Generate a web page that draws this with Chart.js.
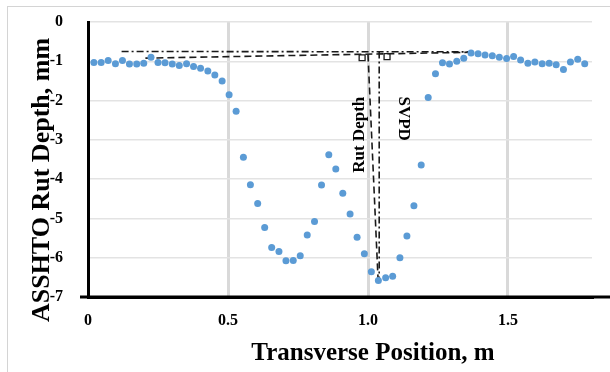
<!DOCTYPE html>
<html>
<head>
<meta charset="utf-8">
<script src="https://cdn.jsdelivr.net/npm/chart.js@4/dist/chart.umd.min.js"></script>
<style>
    html, body { margin: 0; padding: 0; background: #fff; }
    #wrap { position: relative; width: 610px; height: 372px; overflow: hidden; }
    #frame { position: absolute; left: 7px; top: 6px; width: 700px; height: 500px; border: 1px solid #d4d4d4; }
    canvas { position: absolute; left: 0; top: 0; }
</style>
</head>
<body>
<div id="wrap">
    <div id="frame"></div>
    <canvas id="rutChart" width="610" height="372"></canvas>
</div>
<script>
// transverse profile (m) and measured rut depth (mm)
const positions = [
    0.021, 0.047, 0.072, 0.098, 0.123, 0.148, 0.174, 0.199, 0.225, 0.250,
    0.275, 0.301, 0.326, 0.352, 0.377, 0.402, 0.428, 0.453, 0.479, 0.504,
    0.529, 0.555, 0.580, 0.606, 0.631, 0.656, 0.682, 0.707, 0.733, 0.758,
    0.783, 0.809, 0.834, 0.860, 0.885, 0.910, 0.936, 0.961, 0.987, 1.012,
    1.037, 1.063, 1.088, 1.114, 1.139, 1.164, 1.190, 1.215, 1.241, 1.266,
    1.291, 1.317, 1.342, 1.368, 1.393, 1.418, 1.444, 1.469, 1.495, 1.520,
    1.545, 1.571, 1.596, 1.622, 1.647, 1.672, 1.698, 1.723, 1.749, 1.774
];
const rutDepths = [
    -1.03, -1.03, -0.98, -1.06, -0.98, -1.07, -1.07, -1.05, -0.90, -1.03,
    -1.04, -1.07, -1.11, -1.06, -1.13, -1.18, -1.25, -1.35, -1.50, -1.85,
    -2.27, -3.44, -4.14, -4.62, -5.23, -5.74, -5.84, -6.08, -6.07, -5.95,
    -5.42, -5.08, -4.15, -3.38, -3.74, -4.36, -4.89, -5.48, -5.90, -6.36,
    -6.58, -6.51, -6.47, -6.00, -5.45, -4.68, -3.64, -1.92, -1.32, -1.04,
    -1.07, -1.00, -0.92, -0.79, -0.81, -0.84, -0.86, -0.90, -0.93, -0.88,
    -0.97, -1.05, -1.02, -1.06, -1.05, -1.09, -1.21, -1.02, -0.95, -1.06
];

const xTicks = [0, 0.5, 1, 1.5];
const yTicks = [0, -1, -2, -3, -4, -5, -6, -7];

// straight edges and depth drops
const svpdEdgeX = [0.12, 1.375];
const svpdEdgeY = [-0.75, -0.76];
const svpdDropX = [1.04, 1.04];
const svpdDropY = [-0.75, -6.56];
const rutEdgeX = [0.205, 1.375];
const rutEdgeY = [-0.92, -0.77];
const rutDropX = [1.0, 1.036];
const rutDropY = [-0.83, -6.56];
const cornerX = [0.979, 1.068];
const cornerY = [-0.91, -0.88];

const toPoints = (xs, ys) => xs.map((x, i) => ({ x: x, y: ys[i] }));

const serif = 'Liberation Serif, Times New Roman, serif';
const lineColor = '#1a1a1a';

const extras = {
    id: 'extras',
    afterDraw(chart) {
        const { ctx, chartArea, scales } = chart;
        ctx.save();

        // x axis line runs on past the plot
        ctx.strokeStyle = '#000';
        ctx.lineWidth = 3;
        ctx.beginPath();
        ctx.moveTo(80, chartArea.bottom);
        ctx.lineTo(610, chartArea.bottom);
        ctx.stroke();

        ctx.fillStyle = '#000';
        ctx.textAlign = 'center';
        ctx.textBaseline = 'middle';

        // labels on the drops
        ctx.font = 'bold 17px ' + serif;
        ctx.save();
        ctx.translate(scales.x.getPixelForValue(0.971), scales.y.getPixelForValue(-2.87));
        ctx.rotate(-Math.PI / 2);
        ctx.fillText('Rut Depth', 0, 0);
        ctx.restore();

        ctx.save();
        ctx.translate(scales.x.getPixelForValue(1.125), scales.y.getPixelForValue(-2.46));
        ctx.rotate(Math.PI / 2);
        ctx.fillText('SVPD', 0, 0);
        ctx.restore();

        // axis titles
        ctx.font = 'bold 26px ' + serif;
        ctx.save();
        ctx.translate(42, 180);
        ctx.rotate(-Math.PI / 2);
        ctx.fillText('ASSHTO Rut Depth, mm', 0, 0);
        ctx.restore();

        ctx.font = 'bold 25px ' + serif;
        ctx.fillText('Transverse Position, m', 373, 354);

        ctx.restore();
    }
};

const ctx = document.getElementById('rutChart').getContext('2d');

const rutChart = new Chart(ctx, {
    type: 'scatter',
    data: {
        datasets: [{
            label: 'Rut depth',
            data: toPoints(positions, rutDepths),
            backgroundColor: '#5b9bd5',
            borderWidth: 0,
            pointRadius: 3.5,
        }, {
            label: 'SVPD edge',
            data: toPoints(svpdEdgeX, svpdEdgeY),
            showLine: true,
            borderColor: lineColor,
            borderWidth: 1.6,
            borderDash: [7, 3, 2, 3],
            pointRadius: 0,
        }, {
            label: 'SVPD drop',
            data: toPoints(svpdDropX, svpdDropY),
            showLine: true,
            borderColor: lineColor,
            borderWidth: 1.6,
            borderDash: [7, 3, 2, 3],
            pointRadius: 0,
        }, {
            label: 'Rut edge',
            data: toPoints(rutEdgeX, rutEdgeY),
            showLine: true,
            borderColor: lineColor,
            borderWidth: 1.6,
            borderDash: [7, 4],
            pointRadius: 0,
        }, {
            label: 'Rut drop',
            data: toPoints(rutDropX, rutDropY),
            showLine: true,
            borderColor: lineColor,
            borderWidth: 1.6,
            borderDash: [7, 4],
            pointRadius: 0,
        }, {
            label: 'Corners',
            data: toPoints(cornerX, cornerY),
            pointStyle: 'rect',
            pointRadius: 4.2,
            backgroundColor: 'rgba(0,0,0,0)',
            borderColor: lineColor,
            borderWidth: 1.3,
        }],
    },
    options: {
        responsive: false,
        animation: false,
        devicePixelRatio: 1,
        layout: {
            padding: { left: 0, right: 18, top: 22, bottom: 0 },
        },
        plugins: {
            legend: { display: false },
            tooltip: { enabled: false },
        },
        scales: {
            x: {
                type: 'linear',
                min: 0,
                max: 1.8,
                afterBuildTicks: (scale) => {
                    scale.ticks = xTicks.map(v => ({ value: v }));
                },
                afterFit: (scale) => {
                    scale.height = 75;
                    scale.paddingLeft = 0;
                    scale.paddingRight = 0;
                },
                ticks: {
                    color: '#000',
                    font: { family: serif, size: 16, weight: 'bold' },
                    padding: 14,
                    maxRotation: 0,
                },
                grid: {
                    color: '#d9d9d9',
                    lineWidth: 3,
                    drawTicks: false,
                },
                border: { color: '#000', width: 3 },
            },
            y: {
                min: -7,
                max: 0,
                afterBuildTicks: (scale) => {
                    scale.ticks = yTicks.map(v => ({ value: v }));
                },
                afterFit: (scale) => {
                    scale.width = 88;
                    scale.paddingTop = 0;
                    scale.paddingBottom = 0;
                },
                ticks: {
                    color: '#000',
                    font: { family: serif, size: 16, weight: 'bold' },
                    padding: 25,
                },
                grid: {
                    color: '#e3e3e3',
                    lineWidth: 1.5,
                    drawTicks: false,
                },
                border: { color: '#000', width: 3 },
            },
        },
    },
    plugins: [extras],
});
</script>
</body>
</html>
